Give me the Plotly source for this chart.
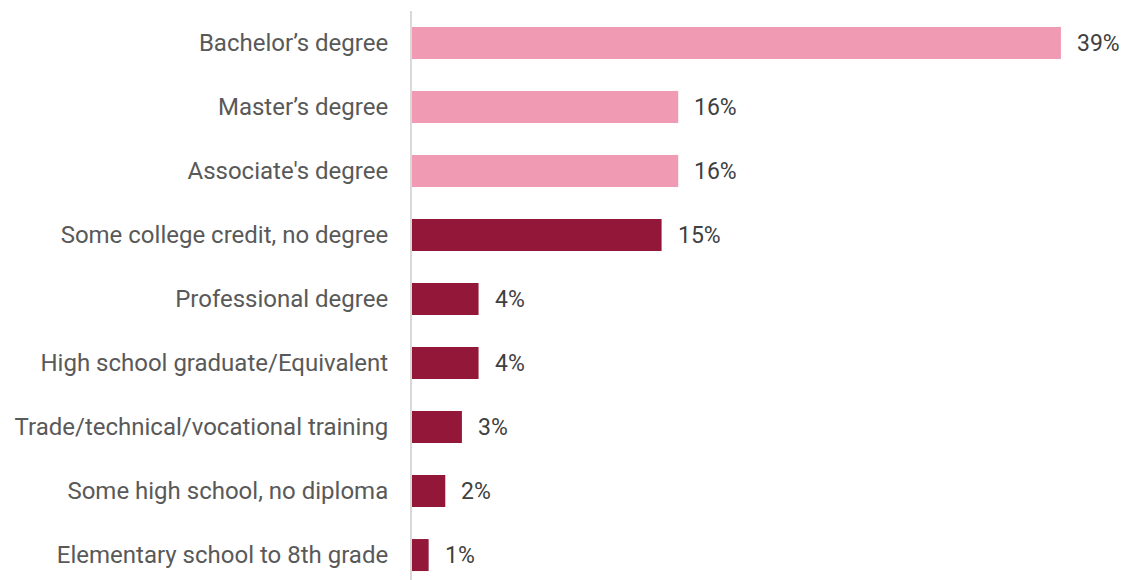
import plotly.graph_objects as go

categories = [
    "Bachelor\u2019s degree",
    "Master\u2019s degree",
    "Associate's degree",
    "Some college credit, no degree",
    "Professional degree",
    "High school graduate/Equivalent",
    "Trade/technical/vocational training",
    "Some high school, no diploma",
    "Elementary school to 8th grade",
]
values = [39, 16, 16, 15, 4, 4, 3, 2, 1]
highlight = [True, True, True, False, False, False, False, False, False]

PINK = "#F09BB3"
DARK = "#921739"
colors = [PINK if h else DARK for h in highlight]

fig = go.Figure()
fig.add_trace(go.Bar(
    y=categories,
    x=values,
    orientation="h",
    marker=dict(color=colors, line=dict(width=0)),
    width=0.5,
    hoverinfo="skip",
))

for c, v in zip(categories, values):
    fig.add_annotation(
        x=v, y=c, text=f"{v}%", showarrow=False,
        xanchor="left", yanchor="middle", xshift=14,
        font=dict(family="Roboto", size=23, color="#404040"),
    )

fig.update_layout(
    width=1122, height=580,
    margin=dict(l=412, r=0, t=11, b=0),
    paper_bgcolor="white", plot_bgcolor="white",
    showlegend=False,
    font=dict(family="Roboto", size=24, color="#595959"),
    xaxis=dict(range=[0, 42.67], showgrid=False, zeroline=False,
               showticklabels=False, showline=False),
    yaxis=dict(categoryorder="array", categoryarray=categories,
               range=[8.39, -0.5], showgrid=False, zeroline=False,
               showline=True, linecolor="#D9D9D9", linewidth=2,
               ticks="outside", ticklen=17, tickcolor="rgba(0,0,0,0)",
               tickfont=dict(family="Roboto", size=24, color="#595959")),
)

fig.write_html(
    "out.html",
    config={"displayModeBar": False},
    post_script="document.body.style.margin='0';document.body.style.overflow='hidden';",
)
